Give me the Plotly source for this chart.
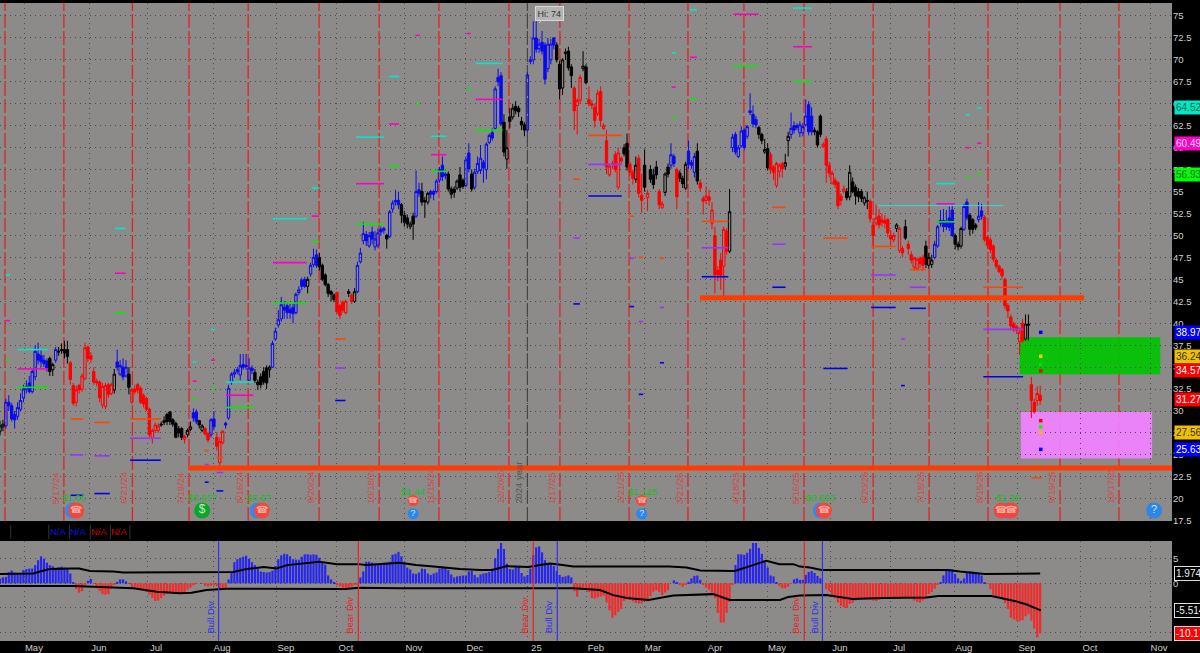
import plotly.graph_objects as go
from plotly.subplots import make_subplots

# Daily bars, x axis is the bar number (one bar = 2.93 px)
opens = [
    27.7,28.2,28.3,31,30.6,29.6,29.4,30.2,31.5,32.5,
    33.2,32.2,33.9,36.5,36.3,35.8,35.7,36,34.7,35.8,
    36.7,37,37,37,35.5,32.9,31,32.9,32.5,33.7,
    37.3,36.3,34.5,33.4,33.3,30.7,30.5,33,32,32.4,
    35.6,34.2,35,34,34.2,31,32.5,33,32.6,31.8,
    31.4,30.2,26.9,27.8,27.8,28.4,28.7,29.6,29.9,29,
    28.6,28,28,26.8,27.3,27.9,29.8,29.9,28.9,27.8,
    28,27.4,27.3,29.1,27,24.1,26.4,28.6,29.2,33.3,
    34.2,34.7,34.1,35.3,35.2,33.5,34.9,34.4,33.3,33.9,
    34.5,34.9,34.7,35,38.2,39.8,40.5,41.8,42,41.6,
    41.8,41.2,43.5,44.9,45,44.2,45.6,46.7,47.8,47.5,
    46.6,45.5,44.4,43.6,43.2,43.5,42,42.4,41.2,43.6,
    43.2,42.5,43.6,47,49.4,50.1,48.8,50.4,48.7,48.9,
    50.7,50.8,50,49.9,53,54,54,53.5,52.3,52,
    51,52.2,52.2,55.2,55,54,53.8,55,55,55,
    56.3,58,57,57,55.3,55.3,55.4,56.9,56.3,55.7,
    59.4,57,55.5,57.3,57.4,58.3,57.5,60.6,61.7,62.2,
    68,68.2,62.9,58.7,63.5,63.5,64.7,64.5,63,62.6,
    62,69.8,70,72.5,71.3,72,71.7,69,70,72.5,
    71.7,69.5,66.8,70.7,71,69.2,66.8,64.8,65.4,69,
    69.2,65.5,65,64.6,63.9,66.4,62.2,60.8,56.9,58.2,
    59.2,55.5,58.8,60,60.5,58.1,57.2,56.4,58.8,54.6,
    58,54.3,57.5,56.9,57.8,55,53.2,54.9,57.8,58,
    59,57.5,57.1,56.5,55.4,59.6,58.3,57.2,59.6,56,
    54.2,54,54.4,51.4,50,46,47.2,46.5,50.5,48.2,
    60,61.5,59,60.2,62,61.3,64.2,63.8,63.2,62.3,
    61.5,59.5,59.9,59.2,57.8,55.7,57.3,58.2,57.9,60.8,
    61.5,62.5,62.5,61.7,61.7,62.6,64.9,63.6,62,61.8,
    63.6,60.1,61,58,56,56.3,56,54.5,55,55,
    54.4,56.1,55.5,55,55,53.7,54,53.9,51.2,51.4,
    52.2,51.8,51.7,51.8,50,49.5,50.8,48.3,48.5,51,
    49,47.8,46.4,46.2,47.4,47.5,48.8,46.6,46.7,47.5,
    48.8,51.7,51.7,51.6,52,52.9,50,49,48.8,50.7,
    53.8,52.3,51.8,51.2,51.8,52.8,52.1,49.8,49.5,48.8,
    47.2,46.5,46.1,45,42,40.7,39.9,39.6,37.9,40,
    38.2,39.9,33,31,31.2,31.8,
]
closes = [
    28.3,28.5,31,30.6,29.1,29,30.4,31.2,32.5,32.8,
    32.2,34.5,36.8,35.8,35.6,35.4,34.9,34.5,35.3,37,
    36.8,36.9,36.6,36.2,33.6,30.9,32.4,32.4,34,37.2,
    36,35.9,33.3,33.2,31.5,32.8,32.9,31.9,33,34.2,
    35,35.2,33.9,35,32.7,32.4,32.2,32.4,31,30.8,
    30.2,27.3,27.8,28.4,28.3,28.5,28.9,28.8,28.8,28.5,
    27,27.5,27,27.1,27.8,28.2,29.2,28.8,28.4,28.3,
    27.4,26.7,29,28.2,26,26.5,27.7,28.4,32.6,34.2,
    34.4,34.5,35.2,35,35.1,34.9,34.6,33.5,33,33,
    33.3,33.2,35,37.7,39.1,40.4,42.1,41.5,41.2,41.2,
    41.1,43.3,43.8,44.2,44.2,45,46.6,47.5,46.6,46.4,
    45,44.4,43.4,43.3,42.7,41.3,40.9,41.5,42.5,43.4,
    42.5,43.6,46.6,48,50.2,49.4,50,49.6,49.6,50.3,
    50.4,50.6,49.6,52.7,53.7,53.8,53.5,52.3,51.5,51.3,
    51.3,51.3,55,54.8,53.8,53.8,54.8,54.7,54.7,56.2,
    57.5,56.7,56.8,55.3,54.7,54.9,56.2,55.5,55.6,58.6,
    57.6,55.3,57.2,58.2,58.8,57.7,60.4,61.4,61.1,66.7,
    67.5,62.7,59.5,60,63,64.5,64.2,64.1,62.6,62,
    68.3,70,72.5,71.2,71.8,71,67.8,71.8,71.8,71.7,
    70,66.7,70,70.9,69.1,68.2,64.2,65.4,68,69.3,
    67.4,65,64.8,63.1,66.2,63.1,62.5,57.8,57.9,58.1,
    57.5,59.4,58.5,59.3,57.8,57.2,56.5,58,54.8,54,
    55.5,54.8,56.4,55.8,56.9,53.5,53.6,57,57,59.2,
    58.2,54.4,56.5,55.9,58.1,58.1,58,59,56.2,55.4,
    53.9,54.5,54,52.9,45.5,45.5,45.5,50.7,48.2,52.7,
    61.2,59.5,60,61.9,60,62.4,64,62.7,62.6,61.5,
    60.8,59.8,57.7,57.5,57.2,58.2,58,57.6,58.3,61.3,
    62.2,62,62.3,62.6,62.4,63.6,61.8,61.8,61.8,60.3,
    61.5,60.4,58,57.1,57.1,55.8,53.4,54,55.3,54.3,
    57.2,55,54.5,54.4,54.2,54.3,53.9,51.9,50,52,
    51.2,51.5,51.4,50.3,49.6,50,51.2,50.8,48,49.7,
    48.5,47.2,47.4,47.3,46.8,46.6,46.7,47.5,47.2,49,
    51,51.4,51,51,50.9,50,49,48.7,50.8,53.3,
    52,50.7,50.7,50.9,52.2,52.2,49.5,48.9,48.4,47.3,
    46.5,45.9,45.4,42,41.4,39.7,39.5,39.2,39,38,
    39.9,39.8,31.2,29.9,32,31.2,
]
highs = [
    28.9,29,31.4,31.8,30.9,30,31,32,33,33.5,
    34,34.7,37.5,37.8,37,36.4,36,36.2,35.5,37.3,
    37.3,37.7,38,38,35.7,33.2,32.9,33.1,34.3,37.8,
    37.5,36.7,35,33.7,33.5,33.2,33.2,33.2,33.2,34.8,
    37,35.8,36,35.8,35,32.6,33,33.2,32.8,32,
    31.6,30.4,28,28.7,28.6,28.8,29.4,29.8,30,29.2,
    28.8,28.3,28.2,27.3,28,28.8,30.3,30.2,29,28.5,
    28.2,27.6,29.2,30,27.6,27,27.8,28.8,33,34.4,
    34.8,35,36.5,36.5,36.5,36,35.2,34.8,33.6,34.3,
    35,35.2,35.2,38,39.5,41.5,43,42.5,42.4,42.2,
    42.2,43.5,44.2,45.2,45.3,45.3,46.9,48.5,48.4,48,
    46.8,45.7,44.6,43.8,43.4,43.6,42.2,42.6,42.7,43.9,
    43.4,44,47,48.6,51.5,50.5,50.4,51,50.5,50.8,
    51,51,50.2,52.9,54,55.2,55,53.7,52.8,52.4,
    51.6,52.6,57.4,56,56,54.4,55,55.2,55.2,56.4,
    57.8,59,57.4,57.3,55.6,55.6,56.4,57.8,56.5,59,
    60.5,57.5,57.6,59,60.3,58.6,60.6,61.6,62.2,67,
    69,68.6,63.8,62,64.5,65,65.3,64.8,63.5,62.9,
    68.6,70.4,74.4,74.5,72.4,73.3,72,72.5,72.4,72.6,
    72,69.9,70.2,71.3,71.5,69.5,67,65.6,68.3,71,
    69.5,67,65.4,65,66.6,67,62.8,62,58.1,58.5,
    59.6,60,59,60.4,61.6,58.4,57.5,59,59.2,57,
    59.8,55.2,58,57.6,58.5,55.3,53.9,57.2,58.2,60.5,
    59.3,57.7,57.4,56.8,58.4,60.8,58.6,59.4,60.5,56.4,
    54.5,55.6,55.2,53.8,51,46.5,48,51,50.8,55.3,
    61.6,61.8,60.3,62.4,62.2,62.6,66.2,64.8,63.6,62.5,
    61.7,61,60.5,59.5,58,58.4,58.2,58.4,59.3,61.8,
    64,63,62.8,63,62.8,65.5,65.3,64.6,62.3,62,
    63.8,60.6,61.3,58.4,57.4,56.6,56.2,54.8,55.7,55.4,
    58,56.6,55.8,55.4,55.3,54.5,55,54.1,51.5,53.5,
    53,52.5,52.3,52,50.6,50.3,51.4,51,48.8,51.8,
    49.4,48.2,47.6,47.5,47.6,47.8,49.4,48,47.8,49.4,
    51.2,52.9,53,52.9,53.3,53.5,50.2,49.3,51,53.6,
    54.2,52.5,52,51.4,53.8,53.6,52.3,50,49.8,49,
    47.4,46.7,46.3,45.2,42.3,41,40.2,39.8,39.5,40.5,
    41,41,33.9,31.4,32.8,32.9,
]
lows = [
    27.2,27.7,28,30,28.8,28,29,30,31,32,
    32,32,33.5,35.3,35,35,34.5,34,34,35.5,
    36.3,36.5,36,35.4,33,30.6,30.5,32,32.2,33.5,
    35.6,35.5,33,32.8,31,30.3,30.2,31.5,31.8,32,
    34.6,34,33.5,33.8,31.9,30.8,31.9,32,30.8,30.4,
    30,27,26.3,27.5,27.5,28.2,28.4,28.4,28.4,28.2,
    26.9,27,26.7,26.3,27,27.7,28.8,28.5,28,27.6,
    27.2,26.4,27,27.8,25.5,23.3,26.2,28,29,33,
    33.8,34.2,33.5,34.7,34.7,33.5,34.2,33.2,32.4,32.6,
    33,32.5,33.8,34.9,38,39.5,40.2,40.5,40.5,40.5,
    40,41,43.2,43.8,44,43.4,45.3,46.4,46.3,46,
    44.8,44.2,43,42.5,42.4,41,40.5,41.2,41,43,
    42.2,42.3,43.4,46.8,49,48.8,48.6,49,48.3,48.6,
    50,50.2,48.5,49.7,52.6,53.4,53,51.4,51,50.8,
    50.7,49.5,52,54.4,53.4,52,53.5,54.2,54,54.8,
    56,56.2,56.4,55,54.2,54.3,55.2,55,55.3,55.5,
    57.2,55,55.2,57,57,56,56.4,60.4,60.8,62,
    67,62.5,59,57.6,62.2,63.2,63.8,63.5,62,61.3,
    61.7,69.5,69.5,70.8,70.8,70.6,67.2,68.6,69.5,71.2,
    69.7,65.5,66,70,68.8,66.8,62,61.5,65,68.7,
    67.2,64.7,64.4,62.3,63.6,62.4,62,57,56.7,57.6,
    57.2,55.2,58.2,59,57.4,56.8,55.8,56,54.3,52.6,
    55,52.8,56,55.3,56.4,53,53,54.5,56.6,57.6,
    57.8,53,56.1,55.4,55.2,57.6,57.6,56.6,55.8,55,
    52.4,53.6,53.4,50.7,43.4,44.8,43.8,43,47.8,48,
    59.5,59.2,58.8,60,59.7,61,63.7,62.3,62.2,61,
    60.4,59.3,57.4,57,56.3,55.4,56.6,56.6,57.5,59,
    61,61.6,62,61.2,61.3,62.4,61.4,61.4,61.4,60,
    61.2,60,56,56.6,55.8,55.4,53,53.4,54.8,54,
    54,54.8,53.5,53.8,53.8,53.4,53,51.5,48.8,51.1,
    50.8,51,50.8,49.8,48.8,49.2,50.4,48,47.5,49.5,
    47.8,46.8,46,46,46.3,46,46.3,46.2,46.3,47.3,
    48.6,51,50.4,50.6,50.5,49.8,48.4,48.3,48.5,50.5,
    51.7,50,50.2,50.6,51.5,51.8,49.3,48.5,48,47,
    46.2,45.7,45,41.6,40.6,39.2,39,38.8,36.4,37.8,
    38,38,29.2,29.7,30.6,30.7,
]
# how many bars in a row have each colour
color_runs = [
    (2,"k"),(15,"b"),(2,"k"),(1,"b"),(4,"k"),(15,"r"),(1,"k"),(4,"b"),(1,"k"),(10,"r"),
    (8,"k"),(1,"r"),(2,"k"),(2,"b"),(2,"k"),(2,"r"),(2,"b"),(3,"r"),(10,"b"),(6,"k"),
    (12,"b"),(1,"k"),(3,"b"),(6,"k"),(4,"r"),(1,"k"),(1,"r"),(1,"k"),(10,"b"),(1,"k"),
    (4,"b"),(5,"k"),(2,"b"),(3,"k"),(6,"b"),(6,"k"),(2,"b"),(1,"k"),(10,"b"),(8,"k"),
    (10,"b"),(6,"k"),(3,"r"),(2,"k"),(12,"r"),(2,"k"),(2,"r"),(1,"k"),(2,"r"),(1,"k"),
    (1,"r"),(3,"k"),(2,"r"),(2,"k"),(2,"b"),(1,"r"),(3,"k"),(3,"b"),(1,"k"),(10,"r"),
    (1,"k"),(9,"b"),(4,"k"),(5,"r"),(2,"k"),(8,"b"),(3,"k"),(8,"r"),(8,"k"),(9,"r"),
    (1,"k"),(2,"r"),(1,"k"),(6,"r"),(3,"k"),(7,"b"),(3,"k"),(2,"b"),(3,"k"),(2,"b"),
    (14,"r"),(2,"k"),(4,"r"),
]

# lower study, one value per bar
histogram = [
    1,1.2,1.3,2.3,2.6,2.2,1.9,1.8,2.7,2.9,
    3,3,3.7,4.7,5.5,5,4.2,3.7,3.5,3,
    3.3,3.4,3.2,2.9,2,0.2,-1.2,-1.9,-1.6,-0.3,
    0.5,0.9,-0.1,-1,-1.6,-2.2,-2.3,-2.2,-1.1,-0.2,
    0.3,0.8,0.8,0.4,-0.1,-0.8,-0.9,-1,-1.1,-1.2,
    -1.7,-2.3,-3,-3.6,-3.5,-3,-2.5,-2.1,-2,-2,
    -1.9,-2,-2.1,-1.8,-1.3,-0.9,-0.4,-0.1,0,-0.1,
    -0.5,-0.6,-0.5,-0.4,-0.6,-1.2,-1.1,-1,0.8,2.4,
    4.3,4.9,5.2,5.4,5.6,5,4.3,3.7,2.9,2.4,
    2.3,2.2,2.3,2.6,3.5,4.9,5.7,6,5.9,5.5,
    4.9,4.8,4.8,5.4,5.9,5.9,5.8,5.9,5.8,5.2,
    4.3,3.8,1.6,0.8,0.1,-0.4,-0.6,-1.2,-1.3,-1,
    -0.6,-0.2,-0.2,1.2,2.4,4.4,4.4,4.2,4,4,
    4,4.2,4.2,4.4,5.8,6,6.4,5.5,4.2,3.2,
    2.8,2,1.9,2.2,3,2.9,2,1.7,2,2.2,
    3,3.4,3.3,2.7,1.8,1.2,1.4,1.5,1.6,1.6,
    2.4,2.5,1.7,1.2,1.8,2,2.1,2.3,3,5.1,
    7,8.2,7,4,2.9,2.8,3.6,3.3,2.1,1.4,
    1.7,3,5.7,7.3,7.5,6.3,4.7,3.9,3.8,3.5,
    2.5,1.7,1.3,1.4,1.6,1.2,-1.6,-2.7,-1,-1,
    -1,-1.8,-3,-3.1,-2.9,-2.7,-2.5,-3.9,-5.5,-7,
    -6.5,-5.8,-5.2,-3.6,-3.3,-3.4,-3.7,-4,-4.1,-4.1,
    -3.6,-3.7,-2.6,-1.7,-1.4,-1.8,-2.4,-1.9,-1.4,0,
    0.6,0.2,-0.3,-0.7,-0.3,0.3,1,1.5,1.6,0.7,
    -0.2,-0.9,-1.3,-1.9,-3,-6,-8,-8,-6,-3.8,
    -0.2,3.7,5.9,5.9,5.8,6.2,7,8.2,8.2,7.2,
    6,4.6,3.2,1.6,1.4,0.1,-0.6,-1,-1,-0.7,
    -0.1,0.8,1,0.7,0.7,1.7,2.3,2.5,2.1,1.5,
    1,0,-1.2,-1.6,-2.5,-3,-3.9,-4.6,-4.9,-5,
    -4.2,-4,-3.5,-3.3,-3.2,-3.1,-3.2,-3.3,-3.5,-3.6,
    -3.4,-3.2,-2.9,-2.7,-2.7,-2.8,-3,-3.2,-2.9,-2.8,
    -2.9,-3,-3.5,-3.8,-3.9,-3.5,-2.8,-2.2,-1.8,-1.1,
    -0.2,0.2,1.6,2.7,2.8,2.8,1.9,1,0.5,1,
    2.2,2.4,2.4,2.2,2,1.6,0.2,-0.1,-1.2,-2.3,
    -2.6,-2.8,-3.1,-4,-5.2,-7,-7.3,-7.6,-7.7,-7.5,
    -6.7,-6.3,-7.6,-9.2,-11,-10.17,
]
upper_band_x = [0,11.4,13.7,17,24,27,30.7,38.7,42,77.4,79.6,84.2,90,94.4,98,109,112.6,115,122.3,125,
                136.5,142,148,157,164,168,173,180.3,184.3,187.7,192,195.7,228.6,234.3,239,250.8,257,
                261.6,266,270.8,273,276.4,280.4,323.6,327.6,336,355]
upper_band_y = [1.9,2,2.4,2.9,3,3,2.5,2.4,2.2,2.2,2.3,2.9,3.3,3,3.7,4.4,4.07,3.9,3.9,3.7,
                4.2,3.7,3.4,2.9,2.7,2.7,3.5,3.3,3.7,4,3.7,3.4,3.4,3.2,2.6,2.5,3.7,
                4.6,3.9,3.9,3.4,3.2,2.7,2.7,2.4,1.9,1.97]
lower_band_x = [0,25,45.5,50,53.5,61.4,65.4,70.5,77.4,118,122.3,136.5,195.7,204.8,209.3,213.9,221.3,
                229.8,234.3,243.4,249.1,266.2,269,273,282,291,301.4,316.2,320.2,338.4,347,350.4,355.2]
lower_band_y = [-0.55,-0.55,-1,-1.35,-1.7,-2,-1.9,-1.35,-1.1,-1.15,-0.9,-1,-1,-1.35,-2.4,-3,-3.4,
                -2.5,-2.4,-2.2,-3.4,-3.4,-2.8,-2.5,-2.4,-3.2,-3,-2.9,-2.6,-2.6,-3.7,-4.3,-5.5]

# month ticks and the dated event lines
month_bars = [8.5,30.7,50.2,72.7,94.5,115,138.2,159,180,200.3,219.8,241,262.1,283.6,303.8,325.9,347.4,368.9,392.5]
month_names = ["May","Jun","Jul","Aug","Sep","Oct","Nov","Dec","25","Feb","Mar","Apr","May","Jun","Jul","Aug","Sep","Oct","Nov"]
expiry_bars = [1.7,21.8,45.2,64.5,84.7,108.9,129.4,149.8,173.7,191.1,214.7,234.8,253.9,274.4,298,317.1,337.2,361.8,381.9]
expiry_names = ["4/19/24","5/17/24","6/21/24","7/19/24","8/16/24","9/20/24","10/18/24","11/15/24","12/20/24","1/17/25",
                "2/21/25","3/21/25","4/18/25","5/16/25","6/20/25","7/18/25","8/15/25","9/19/25","10/17/25"]
year_bar = 180
price_ticks = [75,72.5,70,67.5,65,62.5,60,57.5,55,52.5,50,47.5,45,42.5,40,37.5,35,32.5,30,27.5,25,22.5,20,17.5]

# short level segments: start bar, end bar, price
cyan_levels = [(1.9,3.4,45.5),(6,16.3,37),(39.2,42.9,50.8),(65.8,67.1,35.6),(72,73.4,39.3),(77.1,86.5,33.3),
               (93.1,104.7,51.9),(106.4,109,55.4),(121.5,131.1,61.2),(132.8,136.2,68.1),(147.1,152.4,61.3),
               (162.3,171.5,69.6),(229.2,230.6,70.8),(235.5,237.8,75.7),(270.7,277.1,75.9),(319.6,325.9,55.9),
               (329.5,330.9,63.75),(333.5,335,64.5)]
magenta_levels = [(1.9,3.4,40.3),(6,16.3,34.8),(39.2,42.9,45.7),(65.8,67.1,33.4),(72,73.4,35.8),(77.1,86.5,31.8),
                  (93.1,104.7,46.9),(106.4,109,52.2),(121.5,131.1,55.9),(132.8,136.2,62.7),(141.8,143.3,72.8),
                  (159.3,160.7,73),(147.1,152.4,59.2),(162.3,171.5,65.5),(229.2,230.6,66.9),(235.5,237.8,70.3),
                  (250.3,258.9,75.2),(270.7,277.1,71.5),(319.6,325.9,53.6),(329.5,330.9,60),(333.5,335,60.5)]
green_levels = [(1.9,3.4,35.8),(6,16.3,32.7),(39.2,42.9,41.2),(65.8,67.1,31.4),(72,73.4,32.6),(77.1,86.5,30.4),
                (93.1,104.7,42.3),(106.4,109,49.3),(121.5,131.1,51.3),(132.8,136.2,57.9),(141.8,143.3,65),
                (159.3,160.7,66.7),(147.1,152.4,57.3),(162.3,171.5,62),(229.2,230.6,63.4),(235.5,237.8,65.5),
                (250.3,258.9,69.3),(270.7,277.1,67.5),(319.6,325.9,51.55),(329.5,330.9,56.6),(333.5,335,57)]
orange_levels = [(24.1,28.4,29.1),(32.2,37.5,28.7),(44.4,54.9,29.1),(69.9,71.2,25.5),(73.9,76.2,24.7),(114.4,117.9,38.2),
                 (195.7,197.9,56.4),(200.8,212.2,61.4),(214.8,216.4,52.2),(218,219.5,47.5),(225.2,226.6,47.4),
                 (239.5,248.6,51.6),(263.6,268.1,53.2),(281,289.3,49.7),(297.3,305.7,48.75),(310.5,316,46.1),
                 (335.6,349.2,44.1),(352.1,355.5,22.4)]
purple_levels = [(24.1,28.4,25),(32.2,37.5,24.9),(44.4,54.9,26.9),(69.9,71.2,23.9),(73.9,76.2,23),(114.4,117.9,34.9),
                 (195.7,197.9,49.7),(200.8,212.2,58.1),(214.8,216.4,47.4),(218,219.5,40.2),(225.2,226.6,41.8),
                 (239.5,248.6,48.6),(263.6,268.1,49),(281,289.3,42.8),(297.3,305.7,45.5),(307.5,308.8,38.2),
                 (310.5,316,44.1),(335.6,349.2,39.3)]
blue_levels = [(24.1,28.4,20.4),(32.2,37.5,20.6),(44.4,54.9,24.4),(69.9,71.2,21.9),(73.9,76.2,20.9),(114.4,117.9,31.2),
               (195.7,197.9,42.2),(200.8,212.2,54.5),(214.8,216.4,41.9),(218,219.5,31.9),(225.2,226.6,35.5),
               (239.5,248.6,45.3),(263.6,268.1,44.1),(281,289.3,34.85),(297.3,305.7,41.8),(307.5,308.8,32.9),
               (310.5,316,41.7),(335.6,349.2,33.9)]
thick_levels = [(64.5,400,23.5),(238.9,370,42.9)]
thin_cyan_level = (299.5,342.4,53.4)

# projected zones and the dots inside them
zone_bar = 355.2
green_zone = (348,396,34.2,38.4)
pink_zone = (348.4,393.2,24.6,29.9)
zone_dots = [(38.97,"#0000ff"),(36.24,"#e8d000"),(35.3,"#00e000"),(34.57,"#ff0000"),
             (28.9,"#ff0000"),(28.2,"#00ff00"),(27.56,"#ffb000"),(25.63,"#0000ff")]

# right hand price flags: value, background, text
price_flags = [(64.52,"#00e8c8","#064"),(60.49,"#ff00c8","#ffe0ff"),(56.93,"#00ff00","#063"),(38.97,"#0000ff","#fff"),
               (36.24,"#f0c000","#332"),(34.57,"#ff0000","#fff"),(31.27,"#ff0000","#fff"),(27.56,"#f0c000","#332"),
               (25.63,"#0000ff","#fff")]
study_flags = [(1.9743,"#000","#eee"),(-5.514,"#000","#eee"),(-10.17,"#ff0000","#fff")]

# dividend and earnings marks at the bottom of the price pane
div_labels = [(25.3,"$1.06",20.1),(69,"$0.657",20.1),(88.4,"$0.67",20.1),(141,"$1.44",20.85),(219.4,"$1.125",20.85),
              (280,"$0.593",20.1),(344,"$1.39",20.1)]
blue_icons = [(24.9,18.67),(87.9,18.67),(280.1,18.67),(344,18.67)]
red_icons = [(26,18.67),(89.4,18.67),(281.2,18.67),(345,18.67),(341.8,18.67)]
small_red_icons = [(141,19.8),(219,19.8)]
small_blue_icons = [(141,18.3),(219,18.3)]
dollar_icon = (69,18.67)
question_icon = (393.9,18.67)

# divergence lines in the lower pane
div_lines = [(74.6,"Bull Div"),(122.3,"Bear Div"),(182,"Bear Div"),(190.2,"Bull Div"),(274.5,"Bear Div"),(280.7,"Bull Div")]

pane_colors = {"b": "#0a0aee", "k": "#000000", "r": "#ff0000"}
GREY = "#8c8b8a"
GRID = "#4c4c4c"
LABEL = "#cfcfcf"
FONT = "Liberation Sans"

fig = make_subplots(rows=2, cols=1, shared_xaxes=False, vertical_spacing=0)

bar_colors = []
for count, code in color_runs:
    bar_colors += [code] * count

# candles, one trace per colour, up bars hollow
for code, color in pane_colors.items():
    idx = [i for i, c in enumerate(bar_colors) if c == code]
    fig.add_trace(go.Candlestick(
        x=idx,
        open=[opens[i] for i in idx], high=[highs[i] for i in idx],
        low=[lows[i] for i in idx], close=[closes[i] for i in idx],
        increasing=dict(line=dict(color=color, width=1), fillcolor="rgba(0,0,0,0)"),
        decreasing=dict(line=dict(color=color, width=1), fillcolor=color),
        whiskerwidth=0, showlegend=False, hoverinfo="skip"), row=1, col=1)


def add_levels(levels, color, width):
    xs, ys = [], []
    for start, end, price in levels:
        xs += [start, end, None]
        ys += [price, price, None]
    fig.add_trace(go.Scatter(x=xs, y=ys, mode="lines", line=dict(color=color, width=width),
                             showlegend=False, hoverinfo="skip"), row=1, col=1)


add_levels(cyan_levels, "#00e8c8", 1.6)
add_levels(magenta_levels, "#ff00c0", 1.6)
add_levels(green_levels, "#00ee00", 1.6)
add_levels(orange_levels, "#ff4500", 1.6)
add_levels(purple_levels, "#9933ff", 1.6)
add_levels(blue_levels, "#0000ee", 1.6)
add_levels([thin_cyan_level], "#33dddd", 1)
add_levels(thick_levels, "#ff3c00", 5)

fig.add_trace(go.Scatter(x=[zone_bar] * len(zone_dots), y=[d[0] for d in zone_dots], mode="markers",
                         marker=dict(symbol="square", size=3.5, color=[d[1] for d in zone_dots]),
                         showlegend=False, hoverinfo="skip"), row=1, col=1)

# event icons
fig.add_trace(go.Scatter(x=[p[0] for p in blue_icons], y=[p[1] for p in blue_icons], mode="markers",
                         marker=dict(size=16, color="#3a86e8"), showlegend=False, hoverinfo="skip"), row=1, col=1)
fig.add_trace(go.Scatter(x=[p[0] for p in red_icons], y=[p[1] for p in red_icons], mode="markers+text",
                         marker=dict(size=16, color="#f0483c"), text=["☎"] * len(red_icons),
                         textposition="middle center", textfont=dict(size=10, color="#f7a8a0"),
                         showlegend=False, hoverinfo="skip"), row=1, col=1)
fig.add_trace(go.Scatter(x=[p[0] for p in small_red_icons], y=[p[1] for p in small_red_icons], mode="markers+text",
                         marker=dict(size=11, color="#f0483c"), text=["☎"] * len(small_red_icons),
                         textposition="middle center", textfont=dict(size=8, color="#f7a8a0"),
                         showlegend=False, hoverinfo="skip"), row=1, col=1)
fig.add_trace(go.Scatter(x=[p[0] for p in small_blue_icons], y=[p[1] for p in small_blue_icons], mode="markers+text",
                         marker=dict(size=11, color="#2a86f0"), text=["?"] * len(small_blue_icons),
                         textposition="middle center", textfont=dict(size=9, color="#cfe4fa"),
                         showlegend=False, hoverinfo="skip"), row=1, col=1)
fig.add_trace(go.Scatter(x=[dollar_icon[0]], y=[dollar_icon[1]], mode="markers+text",
                         marker=dict(size=16, color="#0ea32a"), text=["$"],
                         textposition="middle center", textfont=dict(size=12, color="#b8f0c0"),
                         showlegend=False, hoverinfo="skip"), row=1, col=1)
fig.add_trace(go.Scatter(x=[question_icon[0]], y=[question_icon[1]], mode="markers+text",
                         marker=dict(size=16, color="#2f86e6"), text=["?"],
                         textposition="middle center", textfont=dict(size=11, color="#cfe4fa"),
                         showlegend=False, hoverinfo="skip"), row=1, col=1)

# lower study
bar_x = list(range(len(histogram)))
fig.add_trace(go.Bar(x=bar_x, y=histogram, width=0.75,
                     marker=dict(color=["#2626ee" if v >= 0 else "#f22a2a" for v in histogram], line=dict(width=0)),
                     showlegend=False, hoverinfo="skip"), row=2, col=1)
fig.add_trace(go.Scatter(x=upper_band_x, y=upper_band_y, mode="lines", line=dict(color="#000", width=2),
                         showlegend=False, hoverinfo="skip"), row=2, col=1)
fig.add_trace(go.Scatter(x=lower_band_x, y=lower_band_y, mode="lines", line=dict(color="#000", width=2),
                         showlegend=False, hoverinfo="skip"), row=2, col=1)

fig.update_layout(
    width=1200, height=653, margin=dict(l=0, r=28, t=0, b=0, autoexpand=False),
    paper_bgcolor="#000000", plot_bgcolor=GREY, boxmode="overlay", boxgap=0.1, boxgroupgap=0.1, bargap=0.25,
    showlegend=False, font=dict(family=FONT, size=9.5, color=LABEL),
    xaxis=dict(domain=[0, 1], range=[0, 400], tickvals=month_bars, ticktext=[""] * len(month_bars),
               rangeslider=dict(visible=False), showgrid=True, gridcolor=GRID, griddash="1px,4px", gridwidth=1,
               zeroline=False, ticks="", anchor="y"),
    yaxis=dict(domain=[0.2021, 0.9954], range=[17.47, 76.48], side="right", tickvals=price_ticks,
               ticktext=[str(t) for t in price_ticks], showgrid=True, gridcolor=GRID, griddash="1px,4px",
               gridwidth=1, zeroline=False, ticks="", tickfont=dict(size=9.5, color=LABEL), anchor="x"),
    xaxis2=dict(domain=[0, 1], range=[0, 400], tickvals=month_bars, ticktext=month_names, ticklabelshift=9,
                showgrid=True, gridcolor=GRID, griddash="1px,4px", gridwidth=1, zeroline=False, ticks="",
                tickfont=dict(size=9.5, color=LABEL), anchor="y2", ticklabelstandoff=0),
    yaxis2=dict(domain=[0.01838, 0.1715], range=[-11.73, 8.6], side="right", tickvals=[5, 0, -5, -10],
                ticktext=["5", "0", "", ""], showgrid=True, gridcolor=GRID, griddash="1px,4px", gridwidth=1,
                zeroline=False, ticks="", tickfont=dict(size=9.5, color=LABEL), anchor="x2"),
)

# weekly expiry lines and their dates
for bar, name in zip(expiry_bars, expiry_names):
    fig.add_shape(type="line", x0=bar, x1=bar, y0=0, y1=1, xref="x", yref="y domain",
                  line=dict(color="#e42222", width=1.3, dash="14px,3px"), layer="below")
    fig.add_annotation(x=bar, y=19.2, xref="x", yref="y", text=name, textangle=-90, showarrow=False,
                       xanchor="right", yanchor="bottom", xshift=-1, font=dict(size=9.5, color="#de4642"))
fig.add_shape(type="line", x0=year_bar, x1=year_bar, y0=0, y1=1, xref="x", yref="y domain",
              line=dict(color="#444444", width=1.2, dash="14px,3px"), layer="below")
fig.add_annotation(x=year_bar, y=19.2, xref="x", yref="y", text="2024 year", textangle=-90, showarrow=False,
                   xanchor="right", yanchor="bottom", xshift=-1, font=dict(size=9.5, color="#555555"))

# zones sit over the lines, which still show through faintly
for zone, color in [(green_zone, "#00c400"), (pink_zone, "#f082ff")]:
    fig.add_shape(type="rect", x0=zone[0], x1=zone[1], y0=zone[2], y1=zone[3], xref="x", yref="y",
                  fillcolor=color, opacity=0.93, line=dict(width=0), layer="below")

# dividend labels
for bar, text, price in div_labels:
    fig.add_annotation(x=bar, y=price, xref="x", yref="y", text=text, showarrow=False,
                       font=dict(size=9.5, color="#12c020"))

fig.add_annotation(x=184, y=74.2, xref="x", yref="y", text="Hi: 74", ax=10, ay=-10, showarrow=True, arrowhead=0,
                   arrowcolor="#c8c8c8", bgcolor="#b4b4b4", bordercolor="#d8d8d8", borderpad=1.5,
                   font=dict(size=9, color="#333333"))

# divergence lines
for bar, name in div_lines:
    color = "#3030f0" if name == "Bull Div" else "#f02020"
    fig.add_shape(type="line", x0=bar, x1=bar, y0=0, y1=1, xref="x2", yref="y2 domain",
                  line=dict(color=color, width=1.2), layer="above")
    fig.add_annotation(x=bar, y=-10.6, xref="x2", yref="y2", text=name, textangle=-90, showarrow=False,
                       xanchor="right", yanchor="bottom", xshift=-1, font=dict(size=9.5, color=color))

# price flags on the right
for value, bg, fg in price_flags:
    fig.add_annotation(xref="x domain", x=1, yref="y", y=value, xanchor="left", xshift=2, text=str(value),
                       showarrow=False, bgcolor=bg, borderpad=1, font=dict(size=10, color=fg))
for value, bg, fg in study_flags:
    fig.add_annotation(xref="x2 domain", x=1, yref="y2", y=value, xanchor="left", xshift=2, text=str(value),
                       showarrow=False, bgcolor=bg, bordercolor="#dddddd", borderpad=1, font=dict(size=10, color=fg))

# black band between the panes with the N/A cells
fig.add_shape(type="rect", xref="paper", yref="paper", x0=0.9767, x1=1, y0=0.1715, y1=0.2021,
              fillcolor="#000000", line=dict(width=0), layer="above")
for text, x, color in [("N/A", 60, "#1010e0"), ("N/A", 80.7, "#1010e0"), ("N/A", 102, "#d00000"), ("N/A", 122.7, "#d00000")]:
    fig.add_annotation(xref="paper", yref="paper", x=x / 1200, y=0.1855, xanchor="center", yanchor="middle", text=text,
                       showarrow=False, font=dict(size=9.5, color=color))
for x in [11, 50, 71, 92.5, 113, 133]:
    fig.add_shape(type="line", xref="paper", yref="paper", x0=x / 1200, x1=x / 1200, y0=0.1745, y1=0.196,
                  line=dict(color="#333333", width=1))

# the page's default margin would push the 1200x653 figure off the window
fig.write_html("out.html", config={"displayModeBar": False},
               post_script="document.body.style.margin='0';document.body.style.overflow='hidden';")
